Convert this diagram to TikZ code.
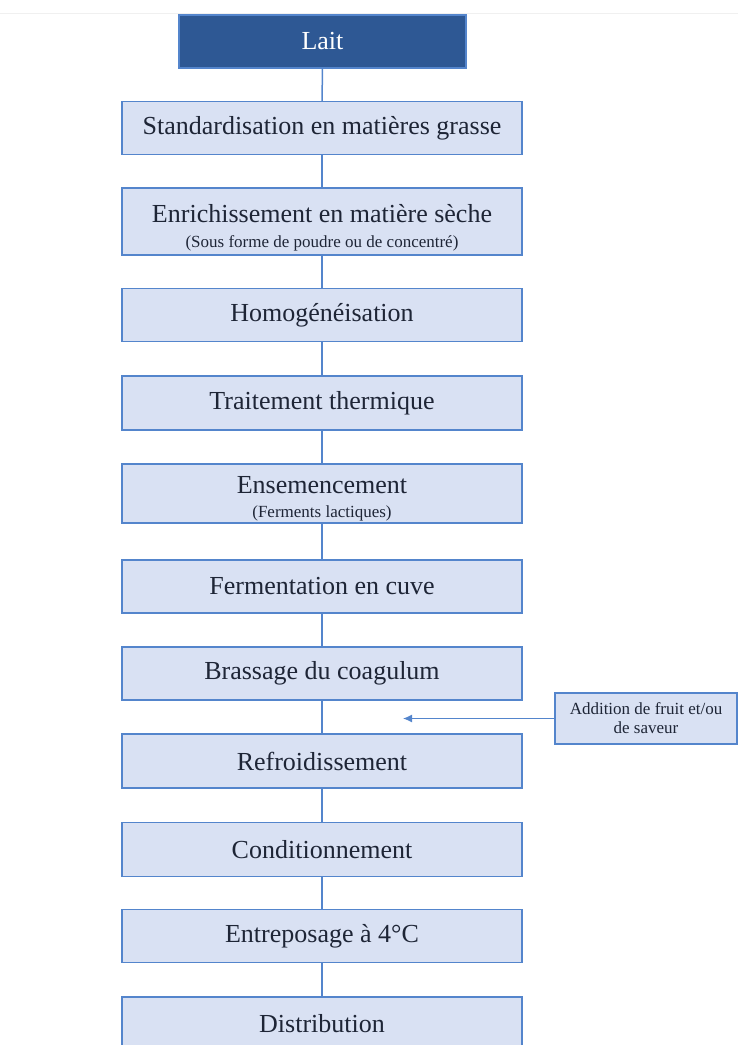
\documentclass[tikz,border=0pt]{standalone}
\usepackage{fontspec}
\setmainfont{Liberation Serif}
\usetikzlibrary{arrows.meta}
\definecolor{boxfill}{RGB}{217,225,243}
\definecolor{boxline}{RGB}{84,133,204}
\definecolor{laitfill}{RGB}{46,88,148}
\definecolor{txt}{RGB}{30,37,54}
\newcommand{\petit}{\fontsize{17}{19}\selectfont}

\begin{document}
\begin{tikzpicture}[x=1pt, y=-1pt, line width=1.5pt]
      \tikzstyle{every node}=[font=\fontsize{26}{30}\selectfont, text=txt]
      \tikzstyle{etape}=[draw=boxline, fill=boxfill, minimum width=400pt, minimum height=53pt, inner sep=0pt, align=center]
      \tikzstyle{lien}=[draw=boxline]
      \useasboundingbox (0,0) rectangle (738,1045);
      \draw [gray!12, line width=1pt] (0,13) -- (738,13);
      \node [etape, fill=laitfill, minimum width=287pt, text=white] (lait) at (322.5,41.5) {Lait};
      \node [etape] (std) at (322,128) {Standardisation en matières grasse};
      \node [etape, minimum height=67pt] (enr) at (322,221.5) {\rule{0pt}{30pt}Enrichissement en matière sèche\\[-5pt]{\petit (Sous forme de poudre ou de concentré)}};
      \node [etape] (homo) at (322,315) {Homogénéisation};
      \node [etape, minimum height=54pt] (trait) at (322,403) {Traitement thermique};
      \node [etape, minimum height=59pt] (ens) at (322,493.5) {\rule{0pt}{28pt}Ensemencement\\[-6pt]{\petit (Ferments lactiques)}};
      \node [etape] (ferm) at (322,586.5) {Fermentation en cuve};
      \node [etape] (bras) at (322,673.5) {Brassage du coagulum};
      \node [etape, minimum height=54pt] (refr) at (322,761) {Refroidissement};
      \node [etape, minimum height=54pt] (cond) at (322,849.5) {Conditionnement};
      \node [etape] (entr) at (322,936) {Entreposage à 4°C};
      \node [etape] (distr) at (322,1023.5) {Distribution};
      \node [etape, minimum width=182pt, minimum height=51pt, font=\petit] (ajout) at (646,718.5) {Addition de fruit et/ou\\de saveur};
      \coordinate (ajoutpt) at (403,718.5);
      \draw [lien] (lait) edge (std) (std) edge (enr) (enr) edge (homo) (homo) edge (trait)
        (trait) edge (ens) (ens) edge (ferm) (ferm) edge (bras) (bras) edge (refr)
        (refr) edge (cond) (cond) edge (entr) (entr) edge (distr);
      \draw [lien, line width=1.2pt, -{Latex[length=9pt, width=8pt]}] (ajout) -- (ajoutpt);
    \end{tikzpicture}
\end{document}
